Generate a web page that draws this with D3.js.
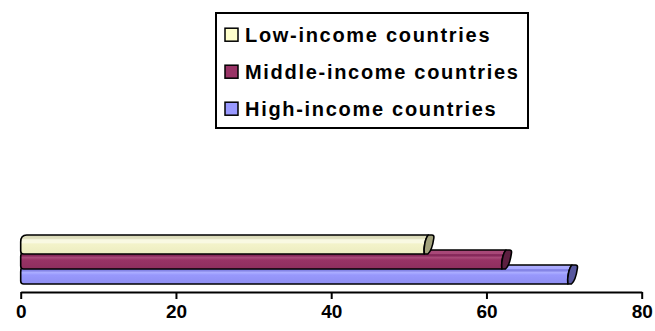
<!DOCTYPE html>
<html>
<head>
<meta charset="utf-8">
<script src="https://cdn.jsdelivr.net/npm/d3@7"></script>
<style>
  html, body { margin: 0; padding: 0; background: #ffffff; }
  svg { display: block; }
  text { font-family: "Liberation Sans", Arial, Helvetica, sans-serif; font-weight: bold; }
</style>
</head>
<body>
<svg id="chart" width="655" height="331"></svg>
<script>
// Series shown, top to bottom
const series = ["Low-income countries", "Middle-income countries", "High-income countries"];
const values = [52, 62, 70.5];
const xTicks = [0, 20, 40, 60, 80];
const xDomain = [0, 80];

// Face colours per series: legend swatch, end cap, and vertical shading of the bar body
const swatch = ["#ffffcc", "#993366", "#9999ff"];
const capFill = ["#a2a27c", "#5c1f40", "#57579e"];
const shades = [
  [[0, "#d6d6b4"], [0.2, "#e2e2c2"], [0.25, "#f9f9e2"], [0.4, "#f9f9e2"], [0.47, "#f3f3ca"], [1, "#ececbf"]],
  [[0, "#a84878"], [0.2, "#a84878"], [0.24, "#86295a"], [0.33, "#86295a"], [0.36, "#ad4d7d"], [0.46, "#a0406f"], [0.52, "#993366"], [1, "#8e2e5e"]],
  [[0, "#b0b0ff"], [0.2, "#a8a8ff"], [0.24, "#8484e6"], [0.33, "#8484e6"], [0.36, "#aeb0ff"], [0.46, "#a2a4ff"], [0.52, "#9898fc"], [1, "#8e8ef2"]]
];

const svg = d3.select("#chart");
const defs = svg.append("defs");

const x = d3.scaleLinear().domain(xDomain).range([20.7, 641.7]);
const y = d3.scaleBand().domain(series).range([239, 284]).paddingInner(0).paddingOuter(0);

const depthX = 8.5, depthY = 4;

shades.forEach((stops, i) => {
  const g = defs.append("linearGradient")
    .attr("id", "shade" + i)
    .attr("x1", 0).attr("y1", 0).attr("x2", 0).attr("y2", 1);
  stops.forEach(([o, c]) => g.append("stop").attr("offset", o).attr("stop-color", c));
});

// Body: front face plus the receding top face, with rounded left end
function bodyPath(v, name) {
  const x0 = x(0), xv = x(v);
  const yT = y(name), yB = yT + y.bandwidth(), yBack = yT - depthY;
  const p = d3.path();
  p.moveTo(x0, yB - 3);
  p.quadraticCurveTo(x0, yB, x0 + 3, yB);
  p.lineTo(xv, yB);
  p.bezierCurveTo(xv - 1, yB - 6, xv + 1, yBack + 3, xv + 4, yBack);
  p.lineTo(x0 + 6, yBack);
  p.quadraticCurveTo(x0, yBack, x0, yT + 3);
  p.closePath();
  return p.toString();
}

// End cap seen at an angle
function capPath(v, name) {
  const xv = x(v);
  const yT = y(name), yB = yT + y.bandwidth(), yBack = yT - depthY;
  const p = d3.path();
  p.moveTo(xv, yB);
  p.bezierCurveTo(xv - 1, yB - 6, xv + 1, yBack + 3, xv + 4, yBack);
  p.lineTo(xv + depthX - 1, yBack);
  p.quadraticCurveTo(xv + depthX + 1.5, yBack, xv + depthX + 1, yBack + 3);
  p.bezierCurveTo(xv + depthX, yT + 6, xv + 6, yB - 2, xv + 3.5, yB);
  p.closePath();
  return p.toString();
}

// Draw from the bottom bar upward so each upper bar hides the one below
const order = d3.range(series.length).reverse();
const bars = svg.append("g").attr("class", "bars");
order.forEach(i => {
  const g = bars.append("g");
  g.append("path")
    .attr("d", bodyPath(values[i], series[i]))
    .attr("fill", `url(#shade${i})`)
    .attr("stroke", "#000").attr("stroke-width", 1.6).attr("stroke-linejoin", "round");
  g.append("path")
    .attr("d", capPath(values[i], series[i]))
    .attr("fill", capFill[i])
    .attr("stroke", "#000").attr("stroke-width", 1.6).attr("stroke-linejoin", "round");
});

// Value axis
const axis = d3.axisBottom(x).tickValues(xTicks).tickSize(7).tickSizeOuter(0).tickPadding(6);
const ax = svg.append("g").attr("transform", "translate(0,292)").call(axis);
ax.select(".domain").attr("stroke", "#000").attr("stroke-width", 2);
ax.selectAll(".tick line").attr("stroke", "#000").attr("stroke-width", 2);
ax.selectAll(".tick text")
  .attr("fill", "#000")
  .style("font-family", '"Liberation Sans", Arial, sans-serif')
  .style("font-weight", "bold")
  .style("font-size", "19px");

// Legend
const legend = svg.append("g").attr("class", "legend");
legend.append("rect")
  .attr("x", 216).attr("y", 13).attr("width", 312).attr("height", 115)
  .attr("fill", "#fff").attr("stroke", "#000").attr("stroke-width", 2);
const rowBase = d3.scalePoint().domain(series).range([41.7, 115.7]);
series.forEach((s, i) => {
  const b = rowBase(s);
  legend.append("rect")
    .attr("x", 225).attr("y", b - 13.5).attr("width", 13).attr("height", 13)
    .attr("fill", swatch[i]).attr("stroke", "#000").attr("stroke-width", 1.5);
  legend.append("text")
    .attr("x", 245).attr("y", b)
    .style("font-size", "20px")
    .style("letter-spacing", "1.7px")
    .attr("fill", "#000")
    .text(s);
});
</script>
</body>
</html>
